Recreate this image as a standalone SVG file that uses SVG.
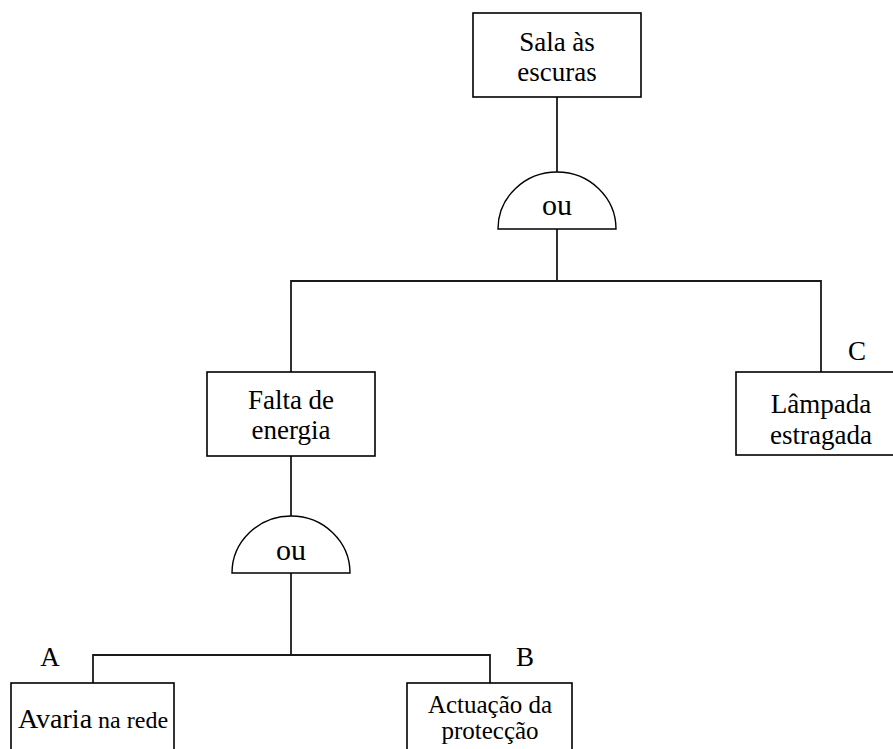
<svg xmlns="http://www.w3.org/2000/svg" width="893" height="749" viewBox="0 0 893 749">
  <style>
    .box { fill: #ffffff; stroke: #000000; stroke-width: 1.6; }
    .gate { fill: #ffffff; stroke: #000000; stroke-width: 1.4; }
    .wire { fill: none; stroke: #1a1a1a; stroke-width: 1.8; }
    .lbl { font-family: 'Liberation Serif', 'DejaVu Serif', 'Times New Roman', serif; fill: #000000; text-anchor: middle; font-size: 27px; }
    .gtxt { font-size: 30px; }
    .small { font-size: 25px; }
  </style>
  <rect width="893" height="749" fill="#ffffff"/>

  <!-- connectors -->
  <g id="connectors">
    <path class="wire" d="M557 97 V172"/>
    <path class="wire" d="M557 229 V281"/>
    <path class="wire" d="M291 372 V281 H821 V372"/>
    <path class="wire" d="M291 456 V516"/>
    <path class="wire" d="M291 573 V655"/>
    <path class="wire" d="M93 683 V655 H490 V683"/>
  </g>

  <!-- top event -->
  <g id="sala">
    <rect class="box" x="473" y="13" width="168" height="84"/>
    <text class="lbl" x="557" y="51">Sala às</text>
    <text class="lbl" x="557" y="81">escuras</text>
  </g>

  <!-- OR gate under the top event -->
  <g id="gate-ou-1">
    <path class="gate" d="M498 229 A59 57 0 0 1 616 229 Z"/>
    <text class="lbl gtxt" x="557" y="215">ou</text>
  </g>

  <!-- intermediate event -->
  <g id="falta">
    <rect class="box" x="207" y="372" width="168" height="84"/>
    <text class="lbl" x="291" y="409">Falta de</text>
    <text class="lbl" x="291" y="439">energia</text>
  </g>

  <!-- basic event C -->
  <g id="lampada">
    <rect class="box" x="736" y="372" width="170" height="83"/>
    <text class="lbl" x="857" y="360">C</text>
    <text class="lbl" x="821" y="413">Lâmpada</text>
    <text class="lbl" x="821" y="444">estragada</text>
  </g>

  <!-- OR gate under the intermediate event -->
  <g id="gate-ou-2">
    <path class="gate" d="M232 573 A59 57 0 0 1 350 573 Z"/>
    <text class="lbl gtxt" x="291" y="560">ou</text>
  </g>

  <!-- basic event A -->
  <g id="avaria">
    <rect class="box" x="11" y="683" width="163" height="80"/>
    <text class="lbl" x="50" y="666">A</text>
    <text class="lbl" x="93" y="728"><tspan font-size="28">Avaria</tspan><tspan font-size="24"> na rede</tspan></text>
  </g>

  <!-- basic event B -->
  <g id="actuacao">
    <rect class="box" x="407" y="683" width="165" height="80"/>
    <text class="lbl" x="525" y="666">B</text>
    <text class="lbl small" x="490" y="713">Actuação da</text>
    <text class="lbl small" x="490" y="739">protecção</text>
  </g>
</svg>
